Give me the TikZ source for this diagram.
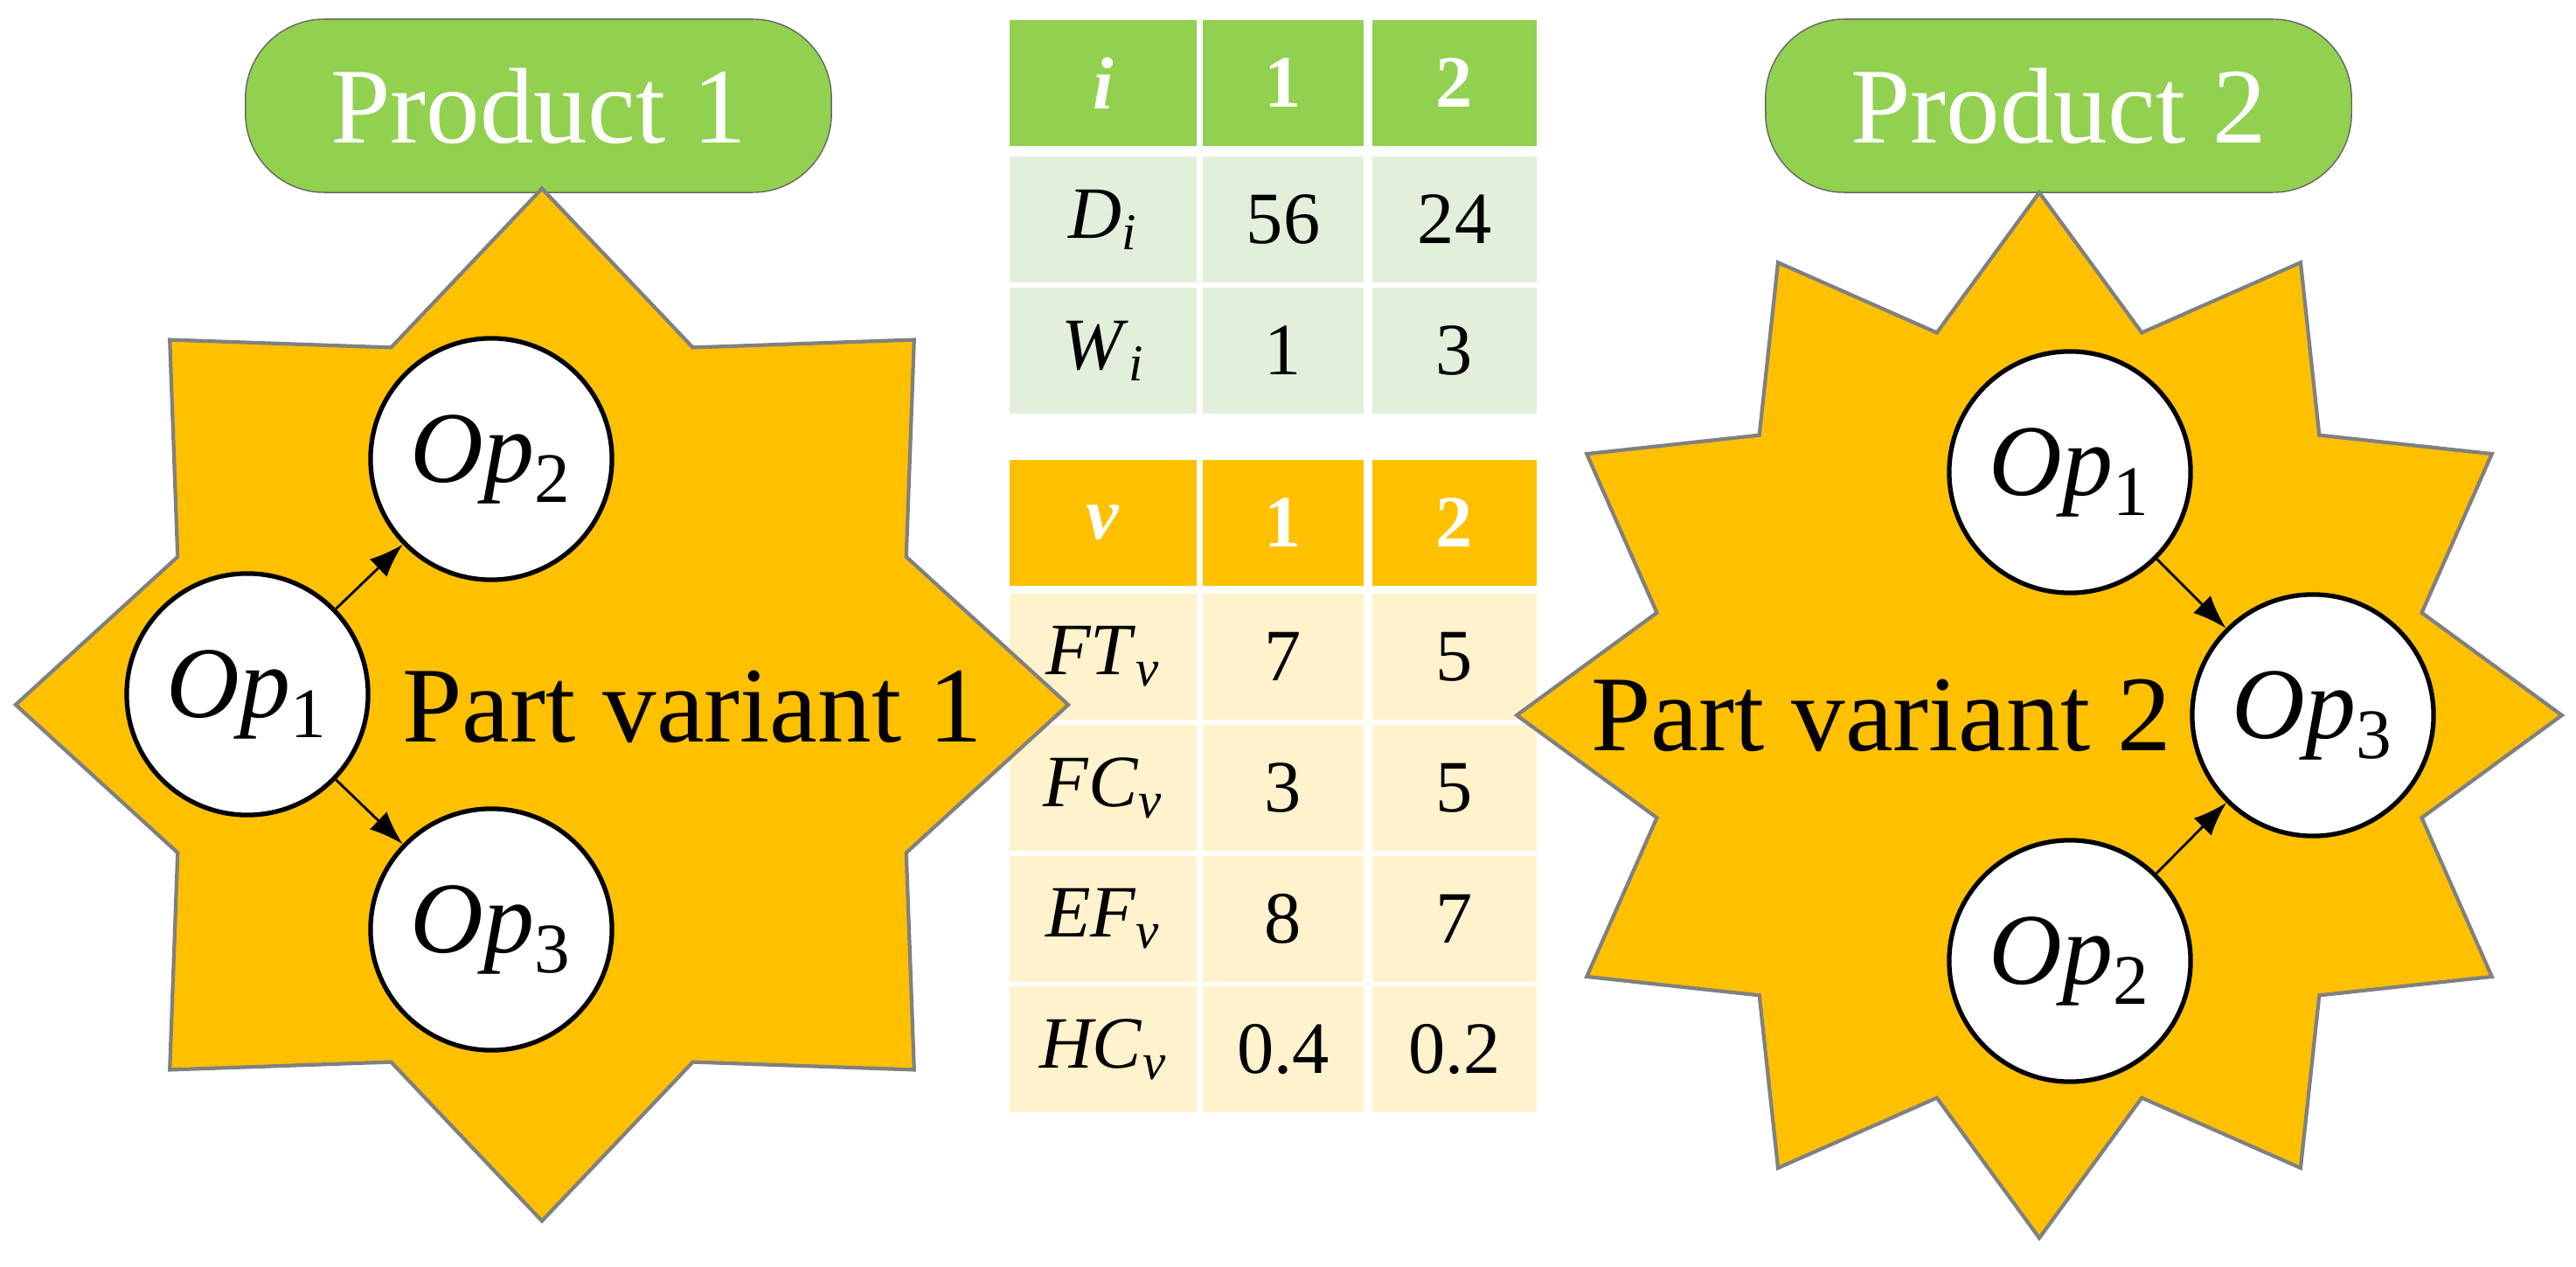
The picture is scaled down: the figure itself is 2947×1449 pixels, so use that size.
\documentclass[tikz,border=0pt]{standalone}
\usepackage{fontspec}
\setmainfont{Liberation Serif}
\usetikzlibrary{shapes.geometric,arrows.meta,positioning}
\definecolor{gold}{HTML}{FFC000}
\definecolor{leaf}{HTML}{92D050}
\definecolor{paleleaf}{HTML}{E2EFDA}
\definecolor{palegold}{HTML}{FFF2CC}
\tikzset{
  >={Latex[length=11pt,width=8pt]},
  burst/.style={star, draw=gray, line width=1.2pt, fill=gold, inner sep=0pt},
  op/.style={circle, draw, fill=white, line width=1.5pt, minimum size=2.76cm, inner sep=0pt, font=\fontsize{33}{36}\selectfont},
  product/.style={draw=gray!80!black, fill=leaf, rounded corners=0.9cm, minimum width=6.7cm, minimum height=1.98cm, text=white, font=\fontsize{35}{40}\selectfont},
  cell/.style={minimum height=1.43cm, inner sep=0pt, font=\fontsize{24}{28}\selectfont},
  flow/.style={->, line width=0.8pt}
}
\newcommand{\opname}[1]{\textit{Op}\textsubscript{#1}}
\newcommand{\sym}[2]{\textit{#1}\textsubscript{\textit{#2}}}
\begin{document}
\begin{tikzpicture}[x=0.01cm, y=-0.01cm]
    \useasboundingbox (0,0) rectangle (2947,1449);
    % Tables
    \foreach \y/\fc/\tc/\la/\lb/\lc [count=\r] in {
        95/leaf/white/\textbf{\textit{i}}/\textbf{1}/\textbf{2},
        251/paleleaf/black/\sym{D}{i}/56/24,
        401/paleleaf/black/\sym{W}{i}/1/3,
        598/gold/white/\textbf{\textit{v}}/\textbf{1}/\textbf{2},
        751/palegold/black/\sym{FT}{v}/7/5,
        901/palegold/black/\sym{FC}{v}/3/5,
        1051/palegold/black/\sym{EF}{v}/8/7,
        1200/palegold/black/\sym{HC}{v}/0.4/0.2} {
      \node [cell, fill=\fc, text=\tc, minimum width=2.13cm] (c\r a) at (1262,\y) {\la};
      \node [cell, fill=\fc, text=\tc, minimum width=1.84cm] (c\r b) at (1468,\y) {\lb};
      \node [cell, fill=\fc, text=\tc, minimum width=1.88cm] (c\r c) at (1664,\y) {\lc};
    }

    % Products
    \node [product] (prod1) at (616,121) {Product 1};
    \node [product] (prod2) at (2355,121) {Product 2};

    % Part variant 1
    \node [burst, star points=8, star point ratio=1.335, minimum size=11.8cm, xscale=1.02, transform shape] (star1) at (620,806) {};
    \node [op] (a1) at (283,794) {\opname{1}};
    \node [op] (a2) at (562,525) {\opname{2}};
    \node [op] (a3) at (562,1063) {\opname{3}};
    \node [font=\fontsize{35}{40}\selectfont] (pv1) at (792,808) {Part variant 1};
    \draw [flow] (a1) -- (a2);
    \draw [flow] (a1) -- (a3);

    % Part variant 2
    \node [burst, star points=12, star point ratio=1.32, minimum size=11.95cm] (star2) at (2333,818) {};
    \node [op] (b1) at (2368,540) {\opname{1}};
    \node [op] (b3) at (2646,818) {\opname{3}};
    \node [op] (b2) at (2368,1099) {\opname{2}};
    \node [font=\fontsize{35}{40}\selectfont] (pv2) at (2152,818) {Part variant 2};
    \draw [flow] (b1) -- (b3);
    \draw [flow] (b2) -- (b3);
\end{tikzpicture}
\end{document}
